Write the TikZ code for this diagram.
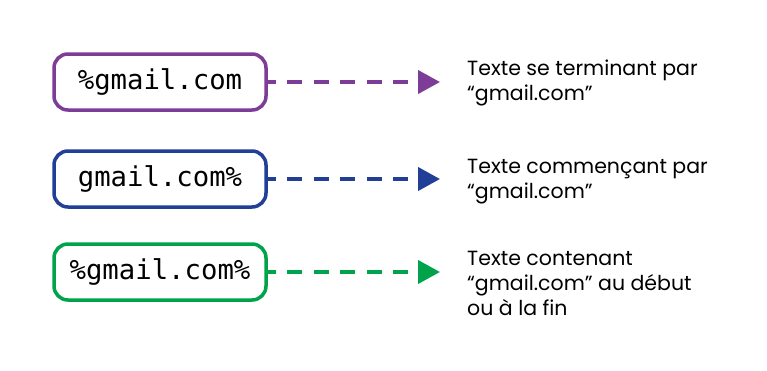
\documentclass[tikz,border=0pt]{standalone}
\usepackage{fontspec}
\setmainfont{Poppins}
\setmonofont{DejaVu Sans Mono}
\usetikzlibrary{arrows.meta}
\definecolor{cpurple}{RGB}{125,60,152}
\definecolor{cblue}{RGB}{33,63,150}
\definecolor{cgreen}{RGB}{0,163,75}
\tikzset{
  pattern box/.style={draw=#1, line width=3.5pt, rounded corners=14pt,
    minimum width=212pt, minimum height=56pt, inner sep=0pt,
    font=\ttfamily\fontsize{27.3}{30}\selectfont},
  flow/.style={draw=#1, line width=4pt, dash pattern=on 15pt off 11.5pt, dash phase=7pt,
    -{Triangle[length=22pt,width=23pt,fill=#1]}, shorten >=0pt},
  caption/.style={anchor=base west, align=left, inner sep=0pt,
    font=\fontsize{20.5}{25}\selectfont},
}
\begin{document}
\begin{tikzpicture}[x=1pt,y=-1pt]
\useasboundingbox (0,0) rectangle (767,370);
\fill[white] (0,0) rectangle (767,370);
\node[pattern box=cpurple] (b1) at (160,82) {\%gmail.com};
\node[pattern box=cblue] (b2) at (160,179) {gmail.com\%};
\node[pattern box=cgreen] (b3) at (160,272) {\%gmail.com\%};
\coordinate (t1) at (440,82);
\coordinate (t2) at (440,179);
\coordinate (t3) at (440,272);
\draw[flow=cpurple] (b1.east) -- (t1);
\draw[flow=cblue] (b2.east) -- (t2);
\draw[flow=cgreen] (b3.east) -- (t3);
% base anchor sits on the last line of each caption
\node[caption] (c1) at (467,100) {Texte se terminant par\\“gmail.com”};
\node[caption] (c2) at (467,198) {Texte commençant par\\“gmail.com”};
\node[caption] (c3) at (467,315) {Texte contenant\\“gmail.com” au début\\ou à la fin};
\end{tikzpicture}
\end{document}
